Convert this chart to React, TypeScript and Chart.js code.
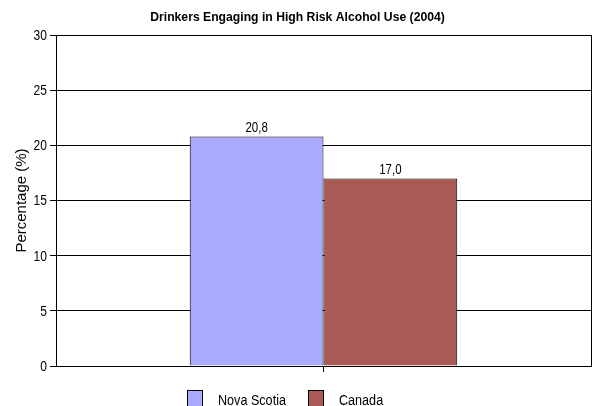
import React, { useEffect, useRef } from "react";
import { Chart, registerables } from "chart.js";

Chart.register(...registerables);

const title = "Drinkers Engaging in High Risk Alcohol Use (2004)";
const categories = [""];
const seriesNames = ["Nova Scotia", "Canada"];
const seriesValues = [[20.8], [17.0]];
const seriesColors = ["#aaaaff", "#aa5a55"];
const yTitle = "Percentage (%)";
const yMin = 0;
const yMax = 30;
const yStep = 5;

const FONT = "'Liberation Sans', Arial, sans-serif";

const fmt = (v: number) => v.toFixed(1).replace(".", ",");

// draw horizontally condensed text (the original uses a narrow face)
function narrowText(
  ctx: CanvasRenderingContext2D,
  text: string,
  x: number,
  y: number,
  font: string,
  sx: number,
  align: CanvasTextAlign,
  baseline: CanvasTextBaseline
) {
  ctx.save();
  ctx.font = font;
  ctx.textAlign = align;
  ctx.textBaseline = baseline;
  ctx.translate(x, y);
  ctx.scale(sx, 1);
  ctx.fillText(text, 0, 0);
  ctx.restore();
}

const extrasPlugin = {
  id: "extras",
  afterDraw(chart: any) {
    const ctx = chart.ctx;
    const { left, right, top, bottom } = chart.chartArea;
    ctx.save();
    ctx.fillStyle = "#000";
    // title
    narrowText(ctx, title, chart.width / 2, 18, `bold 12.2px ${FONT}`, 1, "center", "middle");
    // y tick labels
    const ys = chart.scales.y;
    ys.ticks.forEach((t: any) => {
      narrowText(ctx, String(t.value), left - 9, ys.getPixelForValue(t.value) + 1, `14px ${FONT}`, 0.86, "right", "middle");
    });
    // right border
    ctx.strokeStyle = "#000";
    ctx.lineWidth = 1;
    ctx.beginPath();
    ctx.moveTo(Math.round(right) + 0.5, top);
    ctx.lineTo(Math.round(right) + 0.5, bottom);
    ctx.stroke();
    // value labels
    chart.data.datasets.forEach((ds: any, i: number) => {
      const meta = chart.getDatasetMeta(i);
      meta.data.forEach((el: any, j: number) => {
        narrowText(ctx, fmt(ds.data[j]), el.x, el.y - 1, `14px ${FONT}`, 0.82, "center", "bottom");
      });
    });
    // legend
    const boxW = 15;
    const boxH = 20;
    const textGap = 16;
    const itemStep = 121;
    let x = left + 131;
    const y = 390;
    chart.data.datasets.forEach((ds: any) => {
      ctx.fillStyle = ds.backgroundColor;
      ctx.fillRect(x, y, boxW, boxH);
      ctx.strokeStyle = "#000";
      ctx.strokeRect(x + 0.5, y + 0.5, boxW, boxH);
      ctx.fillStyle = "#000";
      narrowText(ctx, ds.label, x + boxW + textGap, y + 11, `14px ${FONT}`, 0.9, "left", "middle");
      x += itemStep;
    });
    ctx.restore();
  },
};

export default function App() {
  const ref = useRef<HTMLCanvasElement>(null);
  useEffect(() => {
    if (!ref.current) return;
    const chart = new Chart(ref.current, {
      type: "bar",
      data: {
        labels: categories,
        datasets: seriesNames.map((name, i) => ({
          label: name,
          data: seriesValues[i],
          backgroundColor: seriesColors[i],
          borderColor: "#000",
          borderWidth: 1,
          categoryPercentage: 0.5,
          barPercentage: 1.0,
        })),
      },
      options: {
        responsive: false,
        animation: false,
        layout: { padding: { left: 0, right: 4, top: 35, bottom: 0 } },
        plugins: {
          legend: { display: false },
          tooltip: { enabled: false },
          title: { display: false },
        },
        scales: {
          x: {
            offset: true,
            grid: {
              display: true,
              drawOnChartArea: false,
              offset: false,
              drawTicks: true,
              tickLength: 6,
              color: "#000",
            },
            border: { display: true, color: "#000" },
            ticks: { display: true, font: { family: FONT, size: 1 } },
            afterFit: (s: any) => {
              s.height = 40;
            },
          },
          y: {
            min: yMin,
            max: yMax,
            ticks: {
              stepSize: yStep,
              color: "rgba(0,0,0,0)",
              padding: 3,
              font: { family: FONT, size: 12 },
            },
            grid: { color: "#000", tickLength: 6 },
            border: { display: true, color: "#000" },
            title: {
              display: true,
              text: yTitle,
              color: "#000",
              font: { family: FONT, size: 15 },
              padding: { top: 13, bottom: 0 },
            },
            afterFit: (s: any) => {
              s.width = 56;
            },
          },
        },
      } as any,
      plugins: [extrasPlugin],
    });
    return () => chart.destroy();
  }, []);
  return (
    <div style={{ position: "fixed", left: 0, top: 0, width: 595, height: 406, background: "#fff" }}>
      <canvas ref={ref} width={595} height={406} />
    </div>
  );
}
